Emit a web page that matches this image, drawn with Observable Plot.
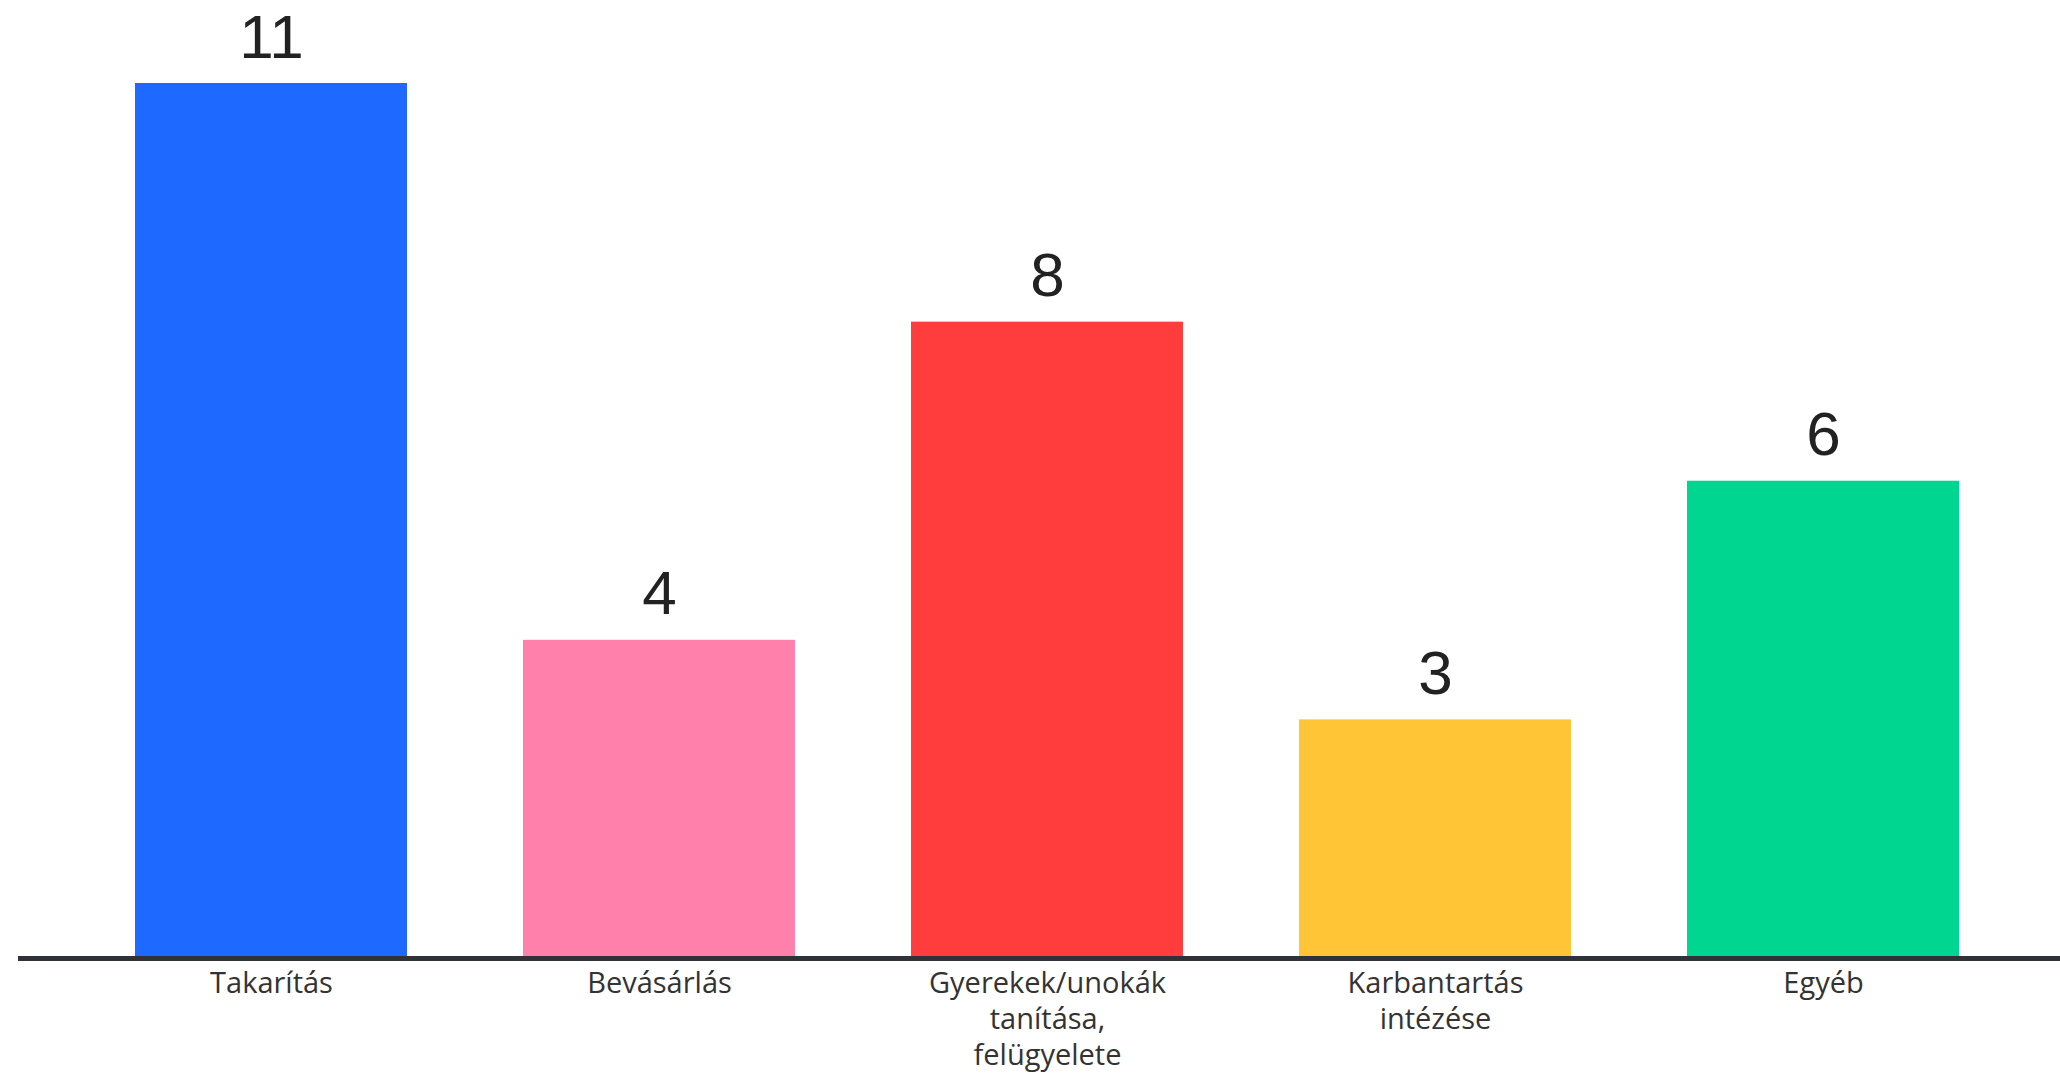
<!DOCTYPE html>
<html>
<head>
<meta charset="utf-8">
<script src="https://cdn.jsdelivr.net/npm/d3@7"></script>
<script src="https://cdn.jsdelivr.net/npm/@observablehq/plot@0.6"></script>
<style>
  html, body { margin: 0; padding: 0; background: #fff; }
  #chart svg { display: block; }
</style>
</head>
<body>
<div id="chart"></div>
<script>
const categories = ["Takarítás", "Bevásárlás", "Gyerekek/unokák\ntanítása,\nfelügyelete", "Karbantartás\nintézése", "Egyéb"];
const values = [11, 4, 8, 3, 6];
const colors = ["#1e69ff", "#ff80aa", "#ff3d3d", "#ffc537", "#00d68f"];

const data = categories.map((c, i) => ({category: c, value: values[i], color: colors[i]}));

const chart = Plot.plot({
  width: 2060,
  height: 1076,
  marginTop: 83,
  marginBottom: 118,
  marginLeft: 77,
  marginRight: 43,
  style: {background: "#fff"},
  x: {domain: categories, paddingInner: 0.3, paddingOuter: 0.15, axis: null},
  y: {domain: [0, 11], axis: null},
  marks: [
    Plot.barY(data, {x: "category", y: "value", fill: "color"}),
    Plot.ruleY([0], {stroke: "#2f3237", strokeWidth: 5, insetLeft: -59, insetRight: -43}),
    Plot.text(data, {
      x: "category", y: "value", text: d => String(d.value),
      dy: -26, lineAnchor: "bottom",
      fontSize: 62, fontFamily: "Liberation Sans, Arial, sans-serif", fill: "#222"
    }),
    Plot.text(data, {
      x: "category", y: 0, text: "category",
      dy: 9, lineAnchor: "top", lineHeight: 1.24,
      fontSize: 29, fontFamily: "Open Sans, sans-serif", fill: "#333"
    })
  ]
});
document.getElementById("chart").append(chart);
</script>
</body>
</html>
